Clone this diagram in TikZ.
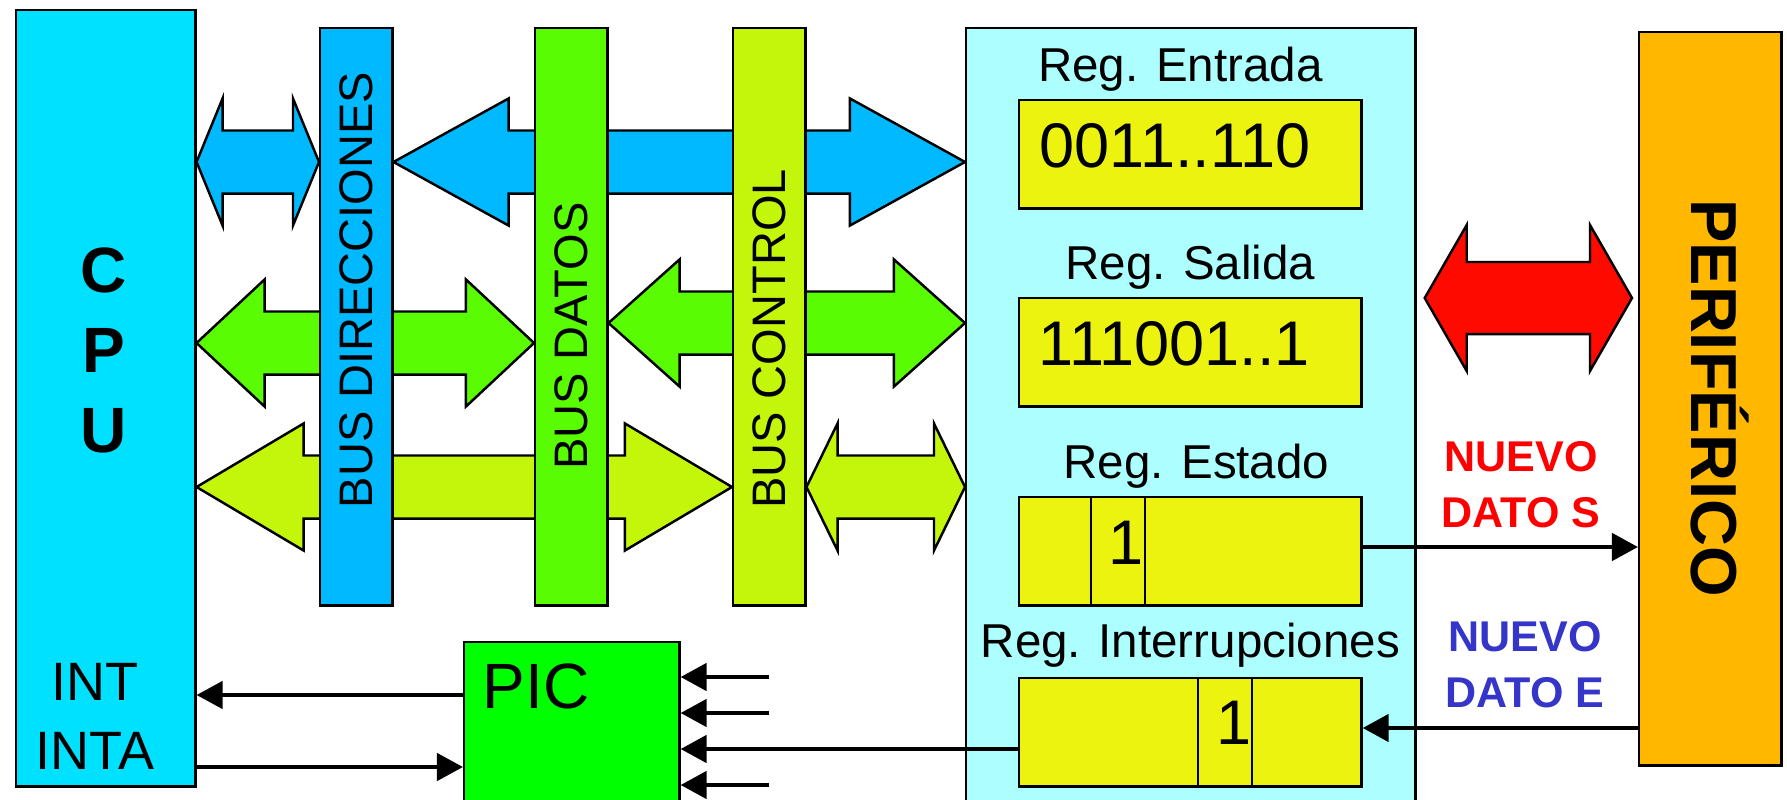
\documentclass[tikz,border=0pt]{standalone}
\usepackage{fontspec}
\setmainfont{Liberation Sans}
\usepackage{xcolor}
\usepackage{tikz}
\usetikzlibrary{positioning, arrows.meta, calc}
\definecolor{cpucyan}{HTML}{00E1FF}
\definecolor{busblue}{HTML}{00B9FF}
\definecolor{busgreen}{HTML}{5AFC04}
\definecolor{buslime}{HTML}{C4F60C}
\definecolor{ifcyan}{HTML}{ADFFFF}
\definecolor{regyellow}{HTML}{ECF30F}
\definecolor{picgreen}{HTML}{00FF00}
\definecolor{periorange}{HTML}{FFB700}
\definecolor{perired}{HTML}{FF0A00}
\definecolor{newsred}{HTML}{FF0000}
\definecolor{newsblue}{HTML}{3535C9}

\pgfdeclarelayer{bg}
\pgfsetlayers{bg,main}

\newcommand{\cpufont}{\fontsize{0.64cm}{0.8cm}\selectfont\bfseries}
\newcommand{\intfont}{\fontsize{0.54cm}{0.69cm}\selectfont}
\newcommand{\picfont}{\fontsize{0.64cm}{0.77cm}\selectfont}
\newcommand{\perifont}{\fontsize{0.65cm}{0.78cm}\selectfont\bfseries}
\newcommand{\newsfont}{\fontsize{0.43cm}{0.56cm}\selectfont\bfseries}

\tikzset{
  head half/.store in=\headhalf, head half=0.635cm,
  shaft half/.store in=\shafthalf, shaft half=0.315cm,
  plainbox/.style={draw=black, line width=0.7pt, inner sep=0pt, anchor=north west},
  busbar/.style={plainbox, minimum width=0.72cm, minimum height=5.77cm},
  regbox/.style={plainbox, fill=regyellow, minimum width=3.42cm, minimum height=1.08cm},
  reglabel/.style={inner sep=0pt, anchor=base, font=\fontsize{0.475cm}{0.57cm}\selectfont},
  regvalue/.style={inner sep=0pt, font=\fontsize{0.63cm}{0.75cm}\selectfont},
  buslabel/.style={inner sep=0pt, rotate=90, font=\fontsize{0.47cm}{0.56cm}\selectfont},
  fatarrow/.style={draw=black, line width=0.7pt, line join=miter},
  sigline/.style={line width=1.3pt, -{Triangle[length=0.26cm, width=0.27cm]}},
}

% fat two-way bus arrow: options, from, to, level, head length
\newcommand{\busarrow}[5]{%
  \draw[fatarrow, #1] let \p1=(#2 |- 0,#4), \p2=(#3 |- 0,#4) in
    (\x1,\y1) -- ++(#5,\headhalf) -- ++(0,\shafthalf-\headhalf)
    -- (\x2-#5,\y1+\shafthalf) -- ++(0,\headhalf-\shafthalf)
    -- (\x2,\y1) -- ++(-#5,-\headhalf) -- ++(0,\headhalf-\shafthalf)
    -- (\x1+#5,\y1-\shafthalf) -- ++(0,\shafthalf-\headhalf) -- cycle;}

\begin{document}
\begin{tikzpicture}[x=0.01cm, y=-0.01cm]
  \useasboundingbox (0,0) rectangle (1787,800);
  \clip (0,0) rectangle (1787,800);

  % CPU
  \node[plainbox, fill=cpucyan, minimum width=1.79cm, minimum height=7.76cm] (cpu) at (15,9) {};
  \node[inner sep=0pt, align=center, font=\cpufont] (cpuname) at (104,350) {C\\P\\U};
  \node[inner sep=0pt, align=center, font=\intfont] (intlines) at (95,716) {INT\\INTA};

  % buses
  \node[busbar, fill=busblue] (busdir) at (319,27) {};
  \node[busbar, fill=busgreen] (busdat) at (534,27) {};
  \node[busbar, fill=buslime] (busctl) at (732,27) {};
  \node[buslabel] (dirlbl) at (busdir.center |- 0,290) {BUS DIRECCIONES};
  \node[buslabel] (datlbl) at (busdat.center |- 0,336) {BUS DATOS};
  \node[buslabel] (ctllbl) at (busctl.center |- 0,339) {BUS CONTROL};

  % interface and its registers
  \node[plainbox, fill=ifcyan, minimum width=4.49cm, minimum height=8cm] (iface) at (965,27) {};
  \node[regbox] (rin) at (1018,99) {};
  \node[regbox] (rout) at (1018,297) {};
  \node[regbox] (rstat) at (1018,496) {};
  \node[regbox] (rint) at (1018,677) {};
  \node[reglabel] (lin) at ([xshift=-0.1cm, yshift=0.17cm]rin.north) {Reg. Entrada};
  \node[reglabel] (lout) at ([yshift=0.17cm]rout.north) {Reg. Salida};
  \node[reglabel] (lstat) at ([xshift=0.06cm, yshift=0.17cm]rstat.north) {Reg. Estado};
  \node[reglabel] (lint) at ([yshift=0.19cm]rint.north) {Reg. Interrupciones};
  \node[regvalue, anchor=west] (vin) at (1039,146) {0011..110};
  \node[regvalue, anchor=west] (vout) at (1038,344) {111001..1};
  \draw[line width=0.7pt] ([xshift=0.73cm]rstat.north west) -- ([xshift=0.73cm]rstat.south west)
    ([xshift=1.27cm]rstat.north west) -- ([xshift=1.27cm]rstat.south west);
  \draw[line width=0.7pt] ([xshift=1.8cm]rint.north west) -- ([xshift=1.8cm]rint.south west)
    ([xshift=2.34cm]rint.north west) -- ([xshift=2.34cm]rint.south west);
  \node[regvalue] (vstat) at (1126,543) {1};
  \node[regvalue] (vint) at (1234,723) {1};

  % PIC
  \node[plainbox, fill=picgreen, minimum width=2.15cm, minimum height=1.8cm] (pic) at (463,641) {};
  \node[inner sep=0pt, anchor=west, font=\picfont] (piclbl) at (482,686) {PIC};

  % peripheral
  \node[plainbox, fill=periorange, minimum width=1.42cm, minimum height=7.33cm] (peri) at (1638,31) {};
  \node[inner sep=0pt, rotate=-90, font=\perifont] (perilbl) at (1720,398) {PERIFÉRICO};
  \node[inner sep=0pt, align=center, text=newsred, font=\newsfont] (newS) at (1521,485) {NUEVO\\DATO S};
  \node[inner sep=0pt, align=center, text=newsblue, font=\newsfont] (newE) at (1525,665) {NUEVO\\DATO E};

  % fat bus arrows, behind the bus bars
  \begin{pgfonlayer}{bg}
    \busarrow{fill=busblue}{cpu.east}{busdir.west}{162}{0.26cm}
    \busarrow{fill=busblue}{busdir.east}{iface.west}{162}{1.15cm}
    \busarrow{fill=busgreen}{cpu.east}{busdat.west}{343}{0.68cm}
    \busarrow{fill=busgreen}{busdat.east}{iface.west}{323}{0.71cm}
    \busarrow{fill=buslime}{cpu.east}{busctl.west}{487}{1.07cm}
    \busarrow{fill=buslime}{busctl.east}{iface.west}{487}{0.31cm}
    \coordinate (redL) at ($(iface.east)+(8,0)$);
    \coordinate (redR) at ($(peri.west)+(-6,0)$);
    \busarrow{fill=perired, head half=0.73cm, shaft half=0.36cm}{redL}{redR}{298}{0.42cm}
  \end{pgfonlayer}

  % interrupt and status lines
  \draw[sigline] (pic.west |- 0,695) -- (cpu.east |- 0,695);
  \draw[sigline] (cpu.east |- 0,767) -- (pic.west |- 0,767);
  \foreach \yy [count=\k] in {677,713,785} {
    \coordinate (irq\k) at (769,\yy);
    \draw[sigline] (irq\k) -- (pic.east |- irq\k);
  }
  \draw[sigline] (rint.west |- 0,749) -- (pic.east |- 0,749);
  \draw[sigline] (rstat.east |- 0,547) -- (peri.west |- 0,547);
  \draw[sigline] (peri.west |- 0,728) -- (rint.east |- 0,728);
\end{tikzpicture}
\end{document}
